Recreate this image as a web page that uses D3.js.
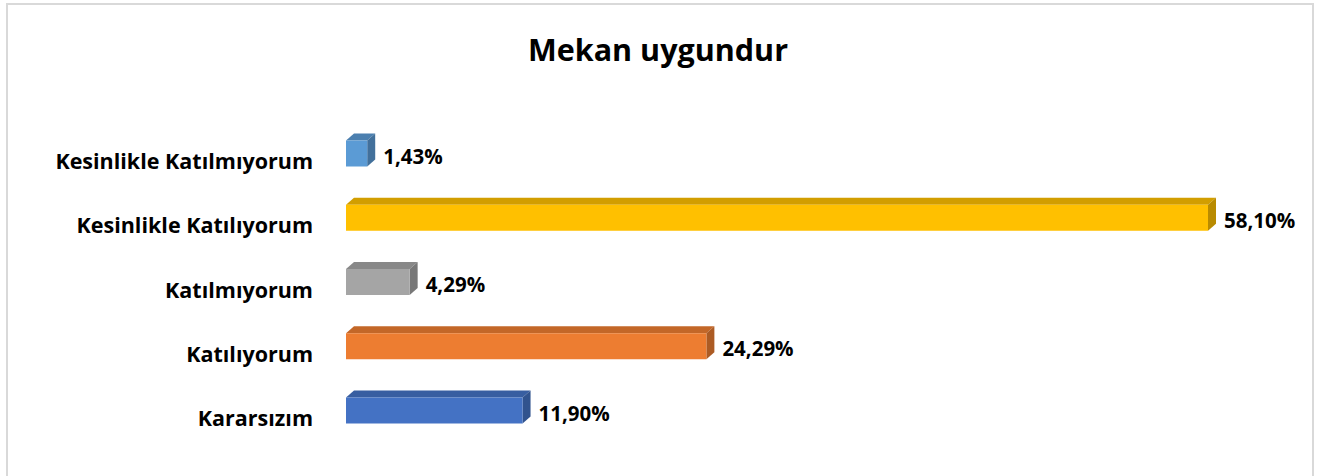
<!DOCTYPE html>
<html>
<head>
<meta charset="utf-8">
<script src="https://cdn.jsdelivr.net/npm/d3@7"></script>
<style>
  body { margin: 0; background: #fff; }
  svg { display: block; }
</style>
</head>
<body>
<svg id="chart"></svg>
<script>
// data, top to bottom as shown
const categories = ["Kesinlikle Katılmıyorum", "Kesinlikle Katılıyorum", "Katılmıyorum", "Katılıyorum", "Kararsızım"];
const values = [1.43, 58.10, 4.29, 24.29, 11.90];
const labels = ["1,43%", "58,10%", "4,29%", "24,29%", "11,90%"];
const colors = ["#5B9BD5", "#FFC000", "#A5A5A5", "#ED7D31", "#4472C4"];
const title = "Mekan uygundur";

const width = 1327, height = 476;
const font = "'Open Sans', Lato, sans-serif";

const svg = d3.select("#chart")
  .attr("width", width)
  .attr("height", height);

// chart frame
svg.append("rect")
  .attr("x", 7).attr("y", 4)
  .attr("width", 1306).attr("height", 490)
  .attr("fill", "#fff")
  .attr("stroke", "#d9d9d9")
  .attr("stroke-width", 2);

svg.append("text")
  .attr("x", 658).attr("y", 61)
  .attr("text-anchor", "middle")
  .style("font-family", font)
  .style("font-weight", 700)
  .style("font-size", "30.5px")
  .text(title);

const x = d3.scaleLinear().domain([0, 58.10]).range([346, 1208]);
const y = d3.scalePoint().domain(categories).range([153.5, 410.5]);

const barH = 26, dx = 8, dy = 7;

const g = svg.selectAll("g.bar")
  .data(categories.map((c, i) => ({ c, v: values[i], label: labels[i], color: colors[i] })))
  .enter()
  .append("g")
  .attr("class", "bar");

// top face
g.append("path")
  .attr("d", d => {
    const x0 = x(0), x1 = x(d.v), y0 = y(d.c) - barH / 2;
    return `M${x0},${y0} L${x0 + dx},${y0 - dy} L${x1 + dx},${y0 - dy} L${x1},${y0} Z`;
  })
  .attr("fill", d => d3.color(d.color).darker(0.55));

// side face
g.append("path")
  .attr("d", d => {
    const x1 = x(d.v), y0 = y(d.c) - barH / 2, y1 = y0 + barH;
    return `M${x1},${y0} L${x1 + dx},${y0 - dy} L${x1 + dx},${y1 - dy} L${x1},${y1} Z`;
  })
  .attr("fill", d => d3.color(d.color).darker(0.9));

// front face
g.append("rect")
  .attr("x", x(0))
  .attr("y", d => y(d.c) - barH / 2)
  .attr("width", d => x(d.v) - x(0))
  .attr("height", barH)
  .attr("fill", d => d.color);

// category labels
g.append("text")
  .attr("x", 313)
  .attr("y", d => y(d.c) + 8)
  .attr("dy", "0.35em")
  .attr("text-anchor", "end")
  .style("font-family", font)
  .style("font-weight", 700)
  .style("font-size", "21.5px")
  .style("fill", "#000")
  .text(d => d.c);

// value labels
g.append("text")
  .attr("x", d => x(d.v) + dx + 8)
  .attr("y", d => y(d.c) + 3)
  .attr("dy", "0.35em")
  .style("font-family", font)
  .style("font-weight", 700)
  .style("font-size", "20.5px")
  .style("fill", "#000")
  .text(d => d.label);
</script>
</body>
</html>
